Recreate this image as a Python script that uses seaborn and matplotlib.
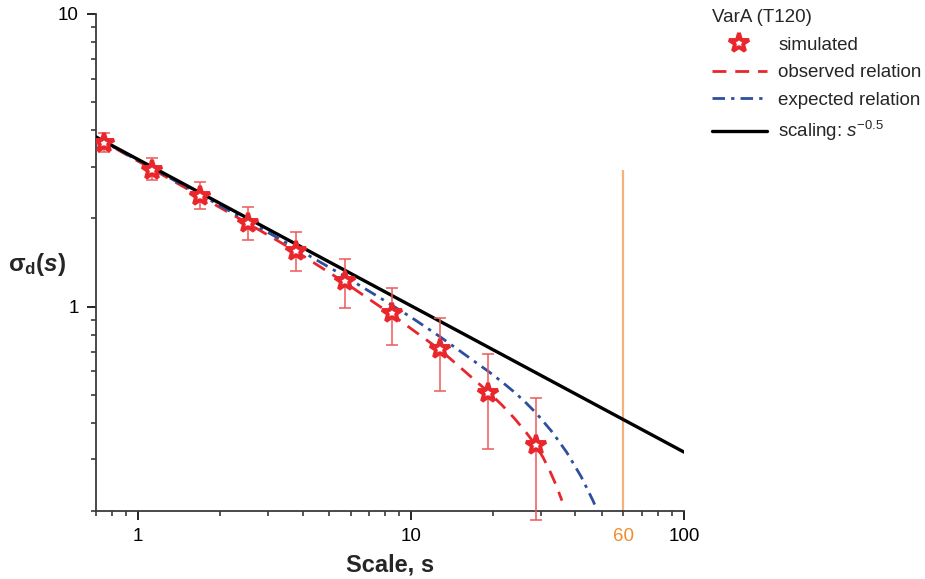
import numpy as np
import pandas as pd
import matplotlib
matplotlib.use("Agg")
import matplotlib.pyplot as plt
from matplotlib.ticker import FixedLocator, NullFormatter, FixedFormatter
from matplotlib.lines import Line2D
import seaborn as sns

# ---- simulated standard deviation of the difference vs. scale ----
s_sim = [0.75, 1.125, 1.69, 2.53, 3.80, 5.70, 8.54, 12.8, 19.2, 28.8]
sig_sim = [3.63, 2.94, 2.39, 1.93, 1.55, 1.22, 0.949, 0.715, 0.506, 0.337]
sig_hi = [3.92, 3.22, 2.67, 2.19, 1.80, 1.45, 1.16, 0.913, 0.688, 0.485]
sig_lo = [3.37, 2.71, 2.15, 1.69, 1.32, 0.99, 0.740, 0.513, 0.327, 0.187]

# observed relation (red dashed)
s_obs = [0.70, 1.125, 1.69, 2.53, 3.80, 5.70, 8.54, 12.8, 19.2, 21.5, 24.0, 26.4, 28.8,
         30.5, 32.3, 34.0, 35.7]
sig_obs = [3.78, 2.95, 2.38, 1.92, 1.54, 1.21, 0.935, 0.71, 0.51, 0.461, 0.413, 0.371, 0.333,
           0.304, 0.273, 0.245, 0.217]

# expected relation (blue dash-dot)
s_exp = [0.70, 1.125, 1.69, 2.53, 3.80, 5.70, 7.70, 10.0, 12.77, 19.2, 21.5, 24.0, 26.4, 28.8,
         33.0, 37.2, 42.0, 46.5, 48.9, 51.0]
sig_exp = [3.78, 2.97, 2.41, 1.955, 1.58, 1.27, 1.07, 0.919, 0.788, 0.60, 0.553, 0.508, 0.468,
           0.431, 0.371, 0.317, 0.262, 0.216, 0.193, 0.174]

# reference scaling s^-0.5 (black)
s_ref = [0.70, 100.0]
sig_ref = [3.80, 0.318]

# window length marker
cutoff_scale = 60
cutoff_top = 2.93

legend_title = "VarA (T120)"
labels = ["simulated", "observed relation", "expected relation", r"scaling: $s^{-0.5}$"]

sns.set_theme(style="ticks")
plt.rcParams["font.family"] = ["Liberation Sans", "DejaVu Sans"]
plt.rcParams["mathtext.fontset"] = "custom"
plt.rcParams["mathtext.rm"] = "Liberation Sans"
plt.rcParams["mathtext.it"] = "Liberation Sans:italic"
plt.rcParams["mathtext.bf"] = "Liberation Sans:bold"
# bold italic face, used for the scale symbol in the axis label
plt.rcParams["mathtext.sf"] = "Liberation Sans:italic:bold"

RED = "#e8262b"
ERR = "#ec5a5a"
BLUE = "#2d4f9e"
ORANGE_LINE = "#f6b07a"
ORANGE_TXT = "#f08c2e"
AXC = "#3a3a3a"
TICK_FS = 13.5
MAJ_LEN = 6.5
XPAD = 6

fig = plt.figure(figsize=(9.25, 5.79), dpi=100)
ax = fig.add_axes([96 / 925, 1 - 511 / 579, (684 - 96) / 925, (511 - 14) / 579])
ax.set_xscale("log")
ax.set_yscale("log")

# vertical marker at the window length
ax.vlines(cutoff_scale, 0.2, cutoff_top, color=ORANGE_LINE, lw=1.6, zorder=1)

df_ref = pd.DataFrame({"s": s_ref, "sig": sig_ref})
df_obs = pd.DataFrame({"s": s_obs, "sig": sig_obs})
df_exp = pd.DataFrame({"s": s_exp, "sig": sig_exp})

sns.lineplot(data=df_obs, x="s", y="sig", ax=ax, color=RED, lw=2.0, estimator=None, zorder=3)
ax.lines[-1].set_dashes((5, 3.2))
sns.lineplot(data=df_exp, x="s", y="sig", ax=ax, color=BLUE, lw=2.0, estimator=None, zorder=3)
ax.lines[-1].set_dashes((4.5, 2.2, 1.2, 2.2))
sns.lineplot(data=df_ref, x="s", y="sig", ax=ax, color="black", lw=2.4, estimator=None, zorder=4)

# error bars and star markers
s_arr = np.array(s_sim)
y_arr = np.array(sig_sim)
yerr = [y_arr - np.array(sig_lo), np.array(sig_hi) - y_arr]
eb = ax.errorbar(s_arr, y_arr, yerr=yerr, fmt="none", ecolor=ERR, elinewidth=1.3,
                 capsize=4.5, capthick=1.3, alpha=0.85, zorder=5)
for art in list(eb.lines[1]) + list(eb.lines[2]):
    art.set_clip_on(False)
ax.plot(s_arr, y_arr, ls="none", marker="*", ms=15, mfc="white", mec=RED, mew=2.8, zorder=6)

ax.set_xlim(0.7, 100)
ax.set_ylim(0.2, 10)

# ticks
ax.xaxis.set_major_locator(FixedLocator([1, 10, 100]))
ax.xaxis.set_major_formatter(FixedFormatter(["1", "10", "100"]))
ax.xaxis.set_minor_locator(FixedLocator([0.7, 0.8, 0.9] + list(range(2, 10)) + list(range(20, 100, 10))))
ax.xaxis.set_minor_formatter(NullFormatter())
ax.yaxis.set_major_locator(FixedLocator([1, 10]))
ax.yaxis.set_major_formatter(FixedFormatter(["1", "10"]))
ax.yaxis.set_minor_locator(FixedLocator([0.2, 0.3, 0.4, 0.5, 0.6, 0.7, 0.8, 0.9] + list(range(2, 10))))
ax.yaxis.set_minor_formatter(NullFormatter())

ax.tick_params(axis="both", which="major", direction="out", length=MAJ_LEN, width=1.2,
               color="black", labelsize=TICK_FS, labelcolor="black")
ax.tick_params(axis="both", which="minor", direction="out", length=3.8, width=1.2, color=AXC)
ax.tick_params(axis="x", which="major", pad=XPAD)
ax.tick_params(axis="y", which="major", pad=6)

ax.annotate(str(cutoff_scale), xy=(cutoff_scale, 0), xycoords=("data", "axes fraction"),
            xytext=(0, -(MAJ_LEN + XPAD)), textcoords="offset points",
            ha="center", va="top", color=ORANGE_TXT, fontsize=TICK_FS)

for side in ["top", "right"]:
    ax.spines[side].set_visible(False)
for side in ["left", "bottom"]:
    ax.spines[side].set_color(AXC)
    ax.spines[side].set_linewidth(1.3)

ax.set_xlabel("Scale, s", fontsize=17, fontweight="bold", labelpad=6)
ax.set_ylabel("")
fig.text(37 / 925, 1 - 265 / 579, r"$\mathbf{\sigma_d(}\mathsf{s}\mathbf{)}$",
         fontsize=17.5, ha="center", va="center")

# legend
handles = [
    Line2D([], [], ls="none", marker="*", ms=15, mfc="white", mec=RED, mew=2.8),
    Line2D([], [], color=RED, lw=2.0, dashes=(5, 3.2)),
    Line2D([], [], color=BLUE, lw=2.0, dashes=(4.5, 2.2, 1.2, 2.2)),
    Line2D([], [], color="black", lw=2.4),
]
leg = fig.legend(handles, labels, title=legend_title, loc="upper left",
                 bbox_to_anchor=(704 / 925, 1 - 2 / 579), frameon=False, fontsize=13.5,
                 title_fontsize=13.5, handlelength=2.95, handletextpad=0.62,
                 labelspacing=0.55, borderaxespad=0.0, alignment="left")

fig.savefig("out.png", dpi=100)
